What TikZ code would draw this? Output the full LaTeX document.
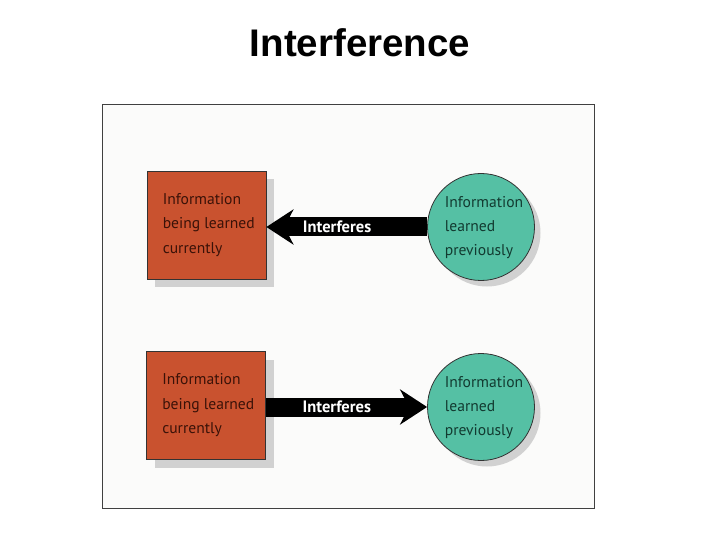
\documentclass[tikz,border=0pt]{standalone}
\usepackage{fontspec}
\setmainfont{PT Sans}
\newfontfamily\titlefont{Liberation Sans}
\usetikzlibrary{arrows.meta,shadows}
\definecolor{boxred}{HTML}{C9522F}
\definecolor{circteal}{HTML}{55C0A4}
\definecolor{boxtext}{HTML}{3A1208}
\definecolor{circtext}{HTML}{123A30}
\definecolor{framebg}{HTML}{FBFBFA}
\tikzset{
  infobox/.style={draw=black!80, line width=0.8bp, fill=boxred, minimum width=119bp, minimum height=108bp, inner sep=0pt,
    drop shadow={shadow xshift=8bp, shadow yshift=-8bp, fill=black!18, opacity=1}},
  infocirc/.style={circle, draw=black!80, line width=0.8bp, fill=circteal, minimum size=107bp, inner sep=0pt,
    drop shadow={shadow xshift=6bp, shadow yshift=-6bp, fill=black!18, opacity=1}},
  boxlabel/.style={align=left, inner sep=0pt, text=boxtext, font=\fontsize{15.6bp}{24.5bp}\selectfont},
  circlabel/.style={align=left, inner sep=0pt, text=circtext, font=\fontsize{15.6bp}{24bp}\selectfont},
  bigarrow/.style={draw=black, line width=19bp, -{Stealth[length=27bp, width=35bp, inset=9bp]}, shorten >=0pt},
  arrowlabel/.style={text=white, inner sep=0pt, font=\bfseries\fontsize{16.5bp}{18bp}\selectfont}
}
\begin{document}
\begin{tikzpicture}[x=1bp,y=-1bp]
\useasboundingbox (0,0) rectangle (720,540);
\fill[white] (0,0) rectangle (720,540);
\node[font=\titlefont\bfseries\fontsize{38.5bp}{40bp}\selectfont, anchor=base] (title) at (360,57) {Interference};
\draw[draw=black!75, line width=1bp, fill=framebg] (102,105) rectangle (594,508);

% top row
\node[infobox] (box1) at (206.5,225) {};
\node[boxlabel, anchor=west] (box1t) at ([xshift=16bp]box1.west) {Information\\being learned\\currently};
\node[infocirc] (circ1) at (481,227) {};
\node[circlabel] (circ1t) at ([xshift=3bp,yshift=-1bp]circ1.center) {Information\\learned\\previously};
\draw[bigarrow] (circ1.west) -- (box1.east |- circ1.west) node[arrowlabel, pos=0.56] (lab1) {Interferes};

% bottom row
\node[infobox] (box2) at (206,405.5) {};
\node[boxlabel, anchor=west] (box2t) at ([xshift=16bp]box2.west) {Information\\being learned\\currently};
\node[infocirc] (circ2) at (481,407) {};
\node[circlabel] (circ2t) at ([xshift=3bp,yshift=-1bp]circ2.center) {Information\\learned\\previously};
\draw[bigarrow] (box2.east |- circ2.west) -- (circ2.west) node[arrowlabel, pos=0.44] (lab2) {Interferes};
\end{tikzpicture}
\end{document}
